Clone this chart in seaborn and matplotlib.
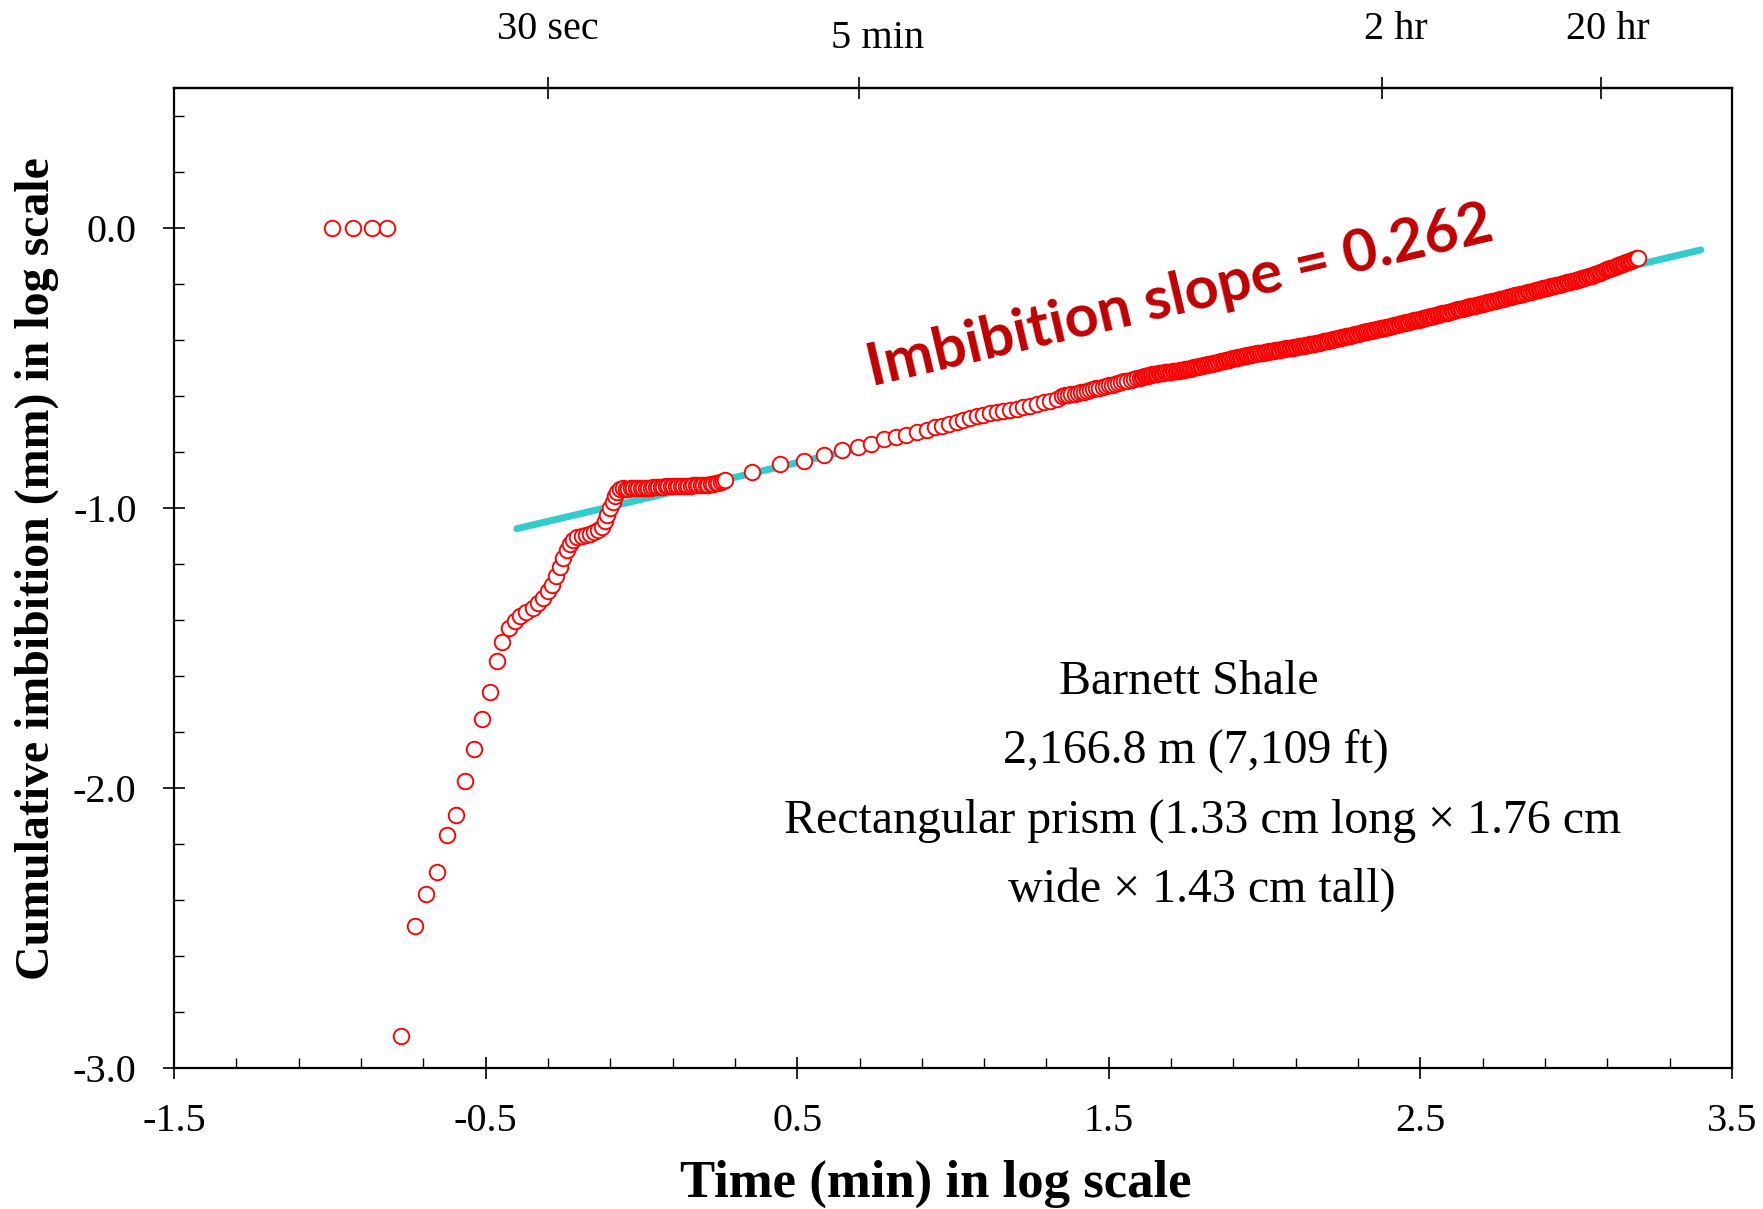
import matplotlib
matplotlib.use("Agg")
import matplotlib.pyplot as plt
from matplotlib.ticker import FixedLocator, AutoMinorLocator, MultipleLocator, FormatStrFormatter, NullLocator
import numpy as np
import pandas as pd
import seaborn as sns

# ---------------- data (log10 values) ----------------
# early readings (flat at 0.0)
t_early = [-0.992, -0.925, -0.866, -0.815]
i_early = [0.0, 0.0, 0.0, 0.0]

# steep rise and knee
t_rise = [-0.771, -0.727, -0.691, -0.655, -0.623, -0.594, -0.565, -0.536, -0.511, -0.486,
          -0.465, -0.446, -0.424, -0.406, -0.388, -0.369, -0.349, -0.331, -0.315, -0.299,
          -0.288, -0.274, -0.262, -0.251, -0.240, -0.229, -0.219, -0.206, -0.192, -0.178,
          -0.165, -0.151, -0.139, -0.128, -0.117, -0.110, -0.101, -0.092, -0.085, -0.078,
          -0.069, -0.058]
i_rise = [-2.884, -2.494, -2.378, -2.301, -2.169, -2.096, -1.976, -1.859, -1.755, -1.657,
          -1.548, -1.480, -1.429, -1.405, -1.387, -1.373, -1.357, -1.340, -1.322, -1.298,
          -1.274, -1.244, -1.209, -1.179, -1.149, -1.128, -1.114, -1.104, -1.099, -1.096,
          -1.092, -1.087, -1.078, -1.066, -1.048, -1.024, -1.000, -0.977, -0.956, -0.941,
          -0.933, -0.929]

# plateau
t_plateau = [-0.050, -0.042, -0.034, -0.026, -0.018, -0.010, -0.002, 0.006, 0.014, 0.022,
             0.030, 0.038, 0.046, 0.054, 0.062, 0.070, 0.078, 0.086, 0.094, 0.102,
             0.110, 0.118, 0.126, 0.134, 0.142, 0.150, 0.158, 0.166, 0.174, 0.182,
             0.190, 0.198, 0.206, 0.214, 0.222, 0.230, 0.238, 0.246, 0.254, 0.262, 0.269]
i_plateau = [-0.931, -0.931, -0.930, -0.930, -0.929, -0.929, -0.929, -0.928, -0.928, -0.927,
             -0.927, -0.926, -0.926, -0.925, -0.924, -0.924, -0.923, -0.923, -0.922, -0.922,
             -0.922, -0.921, -0.921, -0.921, -0.920, -0.920, -0.920, -0.919, -0.919, -0.918,
             -0.918, -0.917, -0.917, -0.916, -0.915, -0.914, -0.912, -0.910, -0.907, -0.904, -0.901]

# sparse middle section
t_mid = [0.354, 0.445, 0.523, 0.587, 0.644, 0.694, 0.738, 0.778, 0.818, 0.850,
         0.883, 0.915, 0.943, 0.964, 0.988, 1.012, 1.033, 1.054, 1.076, 1.097,
         1.119, 1.140, 1.162, 1.182, 1.205, 1.226, 1.247, 1.269, 1.291, 1.312,
         1.333, 1.350]
i_mid = [-0.873, -0.844, -0.831, -0.812, -0.792, -0.783, -0.771, -0.755, -0.745, -0.739,
         -0.727, -0.720, -0.711, -0.706, -0.699, -0.691, -0.685, -0.679, -0.671, -0.667,
         -0.661, -0.657, -0.654, -0.649, -0.645, -0.639, -0.635, -0.628, -0.622, -0.617,
         -0.609, -0.601]

# dense late section (readings A)
t_late = [1.36, 1.37, 1.38, 1.39, 1.40, 1.41, 1.42, 1.43, 1.44, 1.45,
          1.46, 1.47, 1.48, 1.49, 1.50, 1.51, 1.52, 1.53, 1.54, 1.55,
          1.56, 1.57, 1.58, 1.59, 1.60, 1.61, 1.62, 1.63, 1.64, 1.65,
          1.66, 1.67, 1.68, 1.69, 1.70, 1.71, 1.72, 1.73, 1.74, 1.75,
          1.76, 1.77, 1.78, 1.79, 1.80, 1.81, 1.82, 1.83, 1.84, 1.85,
          1.86, 1.87, 1.88, 1.89, 1.90, 1.91, 1.92, 1.93, 1.94, 1.95,
          1.96, 1.97, 1.98, 1.99, 2.00, 2.01, 2.02, 2.03, 2.04, 2.05,
          2.06, 2.07, 2.08, 2.09, 2.10, 2.11, 2.12, 2.13, 2.14, 2.15,
          2.16, 2.17, 2.18, 2.19, 2.20, 2.21, 2.22, 2.23, 2.24, 2.25,
          2.26, 2.27, 2.28, 2.29, 2.30, 2.31, 2.32, 2.33, 2.34, 2.35,
          2.36, 2.37, 2.38, 2.39, 2.40, 2.41, 2.42, 2.43, 2.44, 2.45,
          2.46, 2.47, 2.48, 2.49, 2.50, 2.51, 2.52, 2.53, 2.54, 2.55,
          2.56, 2.57, 2.58, 2.59, 2.60, 2.61, 2.62, 2.63, 2.64, 2.65,
          2.66, 2.67, 2.68, 2.69, 2.70, 2.71, 2.72, 2.73, 2.74, 2.75,
          2.76, 2.77, 2.78, 2.79, 2.80, 2.81, 2.82, 2.83, 2.84, 2.85,
          2.86, 2.87, 2.88, 2.89, 2.90, 2.91, 2.92, 2.93, 2.94, 2.95,
          2.96, 2.97, 2.98, 2.99, 3.00, 3.01, 3.02, 3.03, 3.04, 3.05,
          3.06, 3.07, 3.08, 3.09, 3.10, 3.11, 3.12, 3.13, 3.14, 3.15,
          3.16, 3.17, 3.18, 3.19, 3.20]
i_late = [-0.598, -0.596, -0.594, -0.591, -0.589, -0.586, -0.584, -0.581, -0.579, -0.576,
          -0.573, -0.570, -0.568, -0.565, -0.562, -0.559, -0.556, -0.554, -0.551, -0.548,
          -0.545, -0.542, -0.540, -0.537, -0.534, -0.531, -0.529, -0.526, -0.523, -0.521,
          -0.519, -0.518, -0.516, -0.515, -0.513, -0.511, -0.509, -0.508, -0.506, -0.504,
          -0.502, -0.499, -0.497, -0.494, -0.492, -0.489, -0.487, -0.484, -0.482, -0.479,
          -0.476, -0.474, -0.471, -0.469, -0.466, -0.463, -0.461, -0.458, -0.456, -0.453,
          -0.451, -0.449, -0.447, -0.446, -0.444, -0.442, -0.440, -0.438, -0.436, -0.434,
          -0.432, -0.430, -0.429, -0.427, -0.425, -0.423, -0.421, -0.419, -0.417, -0.415,
          -0.413, -0.410, -0.408, -0.405, -0.403, -0.400, -0.398, -0.395, -0.393, -0.390,
          -0.387, -0.385, -0.382, -0.380, -0.377, -0.374, -0.372, -0.369, -0.367, -0.364,
          -0.362, -0.359, -0.357, -0.354, -0.352, -0.349, -0.346, -0.343, -0.341, -0.338,
          -0.335, -0.333, -0.330, -0.328, -0.325, -0.322, -0.319, -0.317, -0.314, -0.311,
          -0.308, -0.305, -0.303, -0.300, -0.297, -0.294, -0.291, -0.289, -0.286, -0.283,
          -0.280, -0.278, -0.275, -0.273, -0.270, -0.267, -0.264, -0.262, -0.259, -0.256,
          -0.253, -0.250, -0.248, -0.245, -0.242, -0.239, -0.236, -0.234, -0.231, -0.228,
          -0.225, -0.222, -0.220, -0.217, -0.214, -0.211, -0.208, -0.206, -0.203, -0.200,
          -0.197, -0.194, -0.192, -0.189, -0.186, -0.183, -0.180, -0.176, -0.173, -0.170,
          -0.166, -0.161, -0.157, -0.152, -0.148, -0.144, -0.140, -0.135, -0.131, -0.127,
          -0.123, -0.119, -0.114, -0.110, -0.106]

# dense late section (readings B, between readings A)
t_late_b = [1.605, 1.615, 1.625, 1.635, 1.645, 1.655, 1.665, 1.675, 1.685, 1.695,
            1.705, 1.715, 1.725, 1.735, 1.745, 1.755, 1.765, 1.775, 1.785, 1.795,
            1.805, 1.815, 1.825, 1.835, 1.845, 1.855, 1.865, 1.875, 1.885, 1.895,
            1.905, 1.915, 1.925, 1.935, 1.945, 1.955, 1.965, 1.975, 1.985, 1.995,
            2.005, 2.015, 2.025, 2.035, 2.045, 2.055, 2.065, 2.075, 2.085, 2.095,
            2.105, 2.115, 2.125, 2.135, 2.145, 2.155, 2.165, 2.175, 2.185, 2.195,
            2.205, 2.215, 2.225, 2.235, 2.245, 2.255, 2.265, 2.275, 2.285, 2.295,
            2.305, 2.315, 2.325, 2.335, 2.345, 2.355, 2.365, 2.375, 2.385, 2.395,
            2.405, 2.415, 2.425, 2.435, 2.445, 2.455, 2.465, 2.475, 2.485, 2.495,
            2.505, 2.515, 2.525, 2.535, 2.545, 2.555, 2.565, 2.575, 2.585, 2.595,
            2.605, 2.615, 2.625, 2.635, 2.645, 2.655, 2.665, 2.675, 2.685, 2.695,
            2.705, 2.715, 2.725, 2.735, 2.745, 2.755, 2.765, 2.775, 2.785, 2.795,
            2.805, 2.815, 2.825, 2.835, 2.845, 2.855, 2.865, 2.875, 2.885, 2.895,
            2.905, 2.915, 2.925, 2.935, 2.945, 2.955, 2.965, 2.975, 2.985, 2.995,
            3.005, 3.015, 3.025, 3.035, 3.045, 3.055, 3.065, 3.075, 3.085, 3.095,
            3.105, 3.115, 3.125, 3.135, 3.145, 3.155, 3.165, 3.175, 3.185, 3.195]
i_late_b = [-0.533, -0.530, -0.528, -0.525, -0.522, -0.520, -0.519, -0.517, -0.516, -0.514,
            -0.512, -0.510, -0.509, -0.507, -0.505, -0.503, -0.501, -0.498, -0.496, -0.493,
            -0.491, -0.488, -0.486, -0.483, -0.481, -0.478, -0.475, -0.473, -0.470, -0.468,
            -0.465, -0.462, -0.460, -0.457, -0.455, -0.452, -0.450, -0.448, -0.447, -0.445,
            -0.443, -0.441, -0.439, -0.437, -0.435, -0.433, -0.431, -0.430, -0.428, -0.426,
            -0.424, -0.422, -0.420, -0.418, -0.416, -0.414, -0.412, -0.409, -0.407, -0.404,
            -0.402, -0.399, -0.397, -0.394, -0.392, -0.389, -0.386, -0.384, -0.381, -0.379,
            -0.376, -0.373, -0.371, -0.368, -0.366, -0.363, -0.361, -0.358, -0.356, -0.353,
            -0.351, -0.348, -0.345, -0.342, -0.340, -0.337, -0.334, -0.332, -0.329, -0.327,
            -0.324, -0.321, -0.318, -0.316, -0.313, -0.310, -0.307, -0.304, -0.302, -0.299,
            -0.296, -0.293, -0.290, -0.288, -0.285, -0.282, -0.279, -0.277, -0.274, -0.272,
            -0.269, -0.266, -0.263, -0.261, -0.258, -0.255, -0.252, -0.249, -0.247, -0.244,
            -0.241, -0.238, -0.235, -0.233, -0.230, -0.227, -0.224, -0.221, -0.219, -0.216,
            -0.213, -0.210, -0.207, -0.205, -0.202, -0.199, -0.196, -0.193, -0.191, -0.188,
            -0.185, -0.182, -0.178, -0.175, -0.172, -0.168, -0.164, -0.159, -0.155, -0.150,
            -0.146, -0.142, -0.138, -0.133, -0.129, -0.125, -0.121, -0.117, -0.112, -0.108]

# fitted line
fit_x = [-0.40, 3.40]
fit_slope = 0.262
fit_intercept = -0.969

# axis ticks / labels
x_major_ticks = [-1.5, -0.5, 0.5, 1.5, 2.5, 3.5]
top_tick_pos = [-0.301, 0.699, 2.377, 3.079]
top_tick_labels = ["30 sec", "5 min", "2 hr", "20 hr"]
annotation_lines = ["Barnett Shale", "2,166.8 m (7,109 ft)",
                    "Rectangular prism (1.33 cm long \u00d7 1.76 cm",
                    "wide \u00d7 1.43 cm tall)"]
slope_label = "Imbibition slope = 0.262"

# ---------------- plotting ----------------
sns.set_style("ticks")
plt.rcParams["font.family"] = ["Liberation Serif", "DejaVu Serif"]
plt.rcParams["axes.unicode_minus"] = False
plt.rcParams["text.color"] = "black"
plt.rcParams["axes.labelcolor"] = "black"
plt.rcParams["xtick.color"] = "black"
plt.rcParams["ytick.color"] = "black"
plt.rcParams["axes.edgecolor"] = "black"

fig = plt.figure(figsize=(17.63, 12.09), dpi=100)
ax = fig.add_axes([0.0987, 0.1166, 0.8837, 0.8106])

df = pd.DataFrame({
    "log_t": t_early + t_rise + t_plateau + t_mid + t_late + t_late_b,
    "log_i": i_early + i_rise + i_plateau + i_mid + i_late + i_late_b,
}).sort_values("log_t", kind="stable").reset_index(drop=True)
fit_df = pd.DataFrame({"x": fit_x, "y": [fit_slope * v + fit_intercept for v in fit_x]})

sns.lineplot(data=fit_df, x="x", y="y", ax=ax, color="#33CCCC", linewidth=5,
             solid_capstyle="round", zorder=2)
sns.scatterplot(data=df, x="log_t", y="log_i", ax=ax, marker="o", s=125,
                color="white", edgecolor="#FF0000", linewidth=1.35, zorder=3)

ax.set_xlim(-1.5, 3.5)
ax.set_ylim(-3.0, 0.5)

ax.xaxis.set_major_locator(FixedLocator(x_major_ticks))
ax.xaxis.set_minor_locator(AutoMinorLocator(5))
ax.yaxis.set_major_locator(MultipleLocator(1.0))
ax.yaxis.set_minor_locator(AutoMinorLocator(5))
ax.xaxis.set_major_formatter(FormatStrFormatter("%.1f"))
ax.yaxis.set_major_formatter(FormatStrFormatter("%.1f"))

ax.tick_params(which="major", direction="inout", length=16, width=1.2,
               labelsize=29, colors="black")
ax.tick_params(axis="x", which="major", pad=17)
ax.tick_params(axis="y", which="major", pad=19)
ax.tick_params(which="minor", direction="in", length=7, width=1.0, colors="black")
ax.tick_params(which="both", top=False, right=False)

for sp in ax.spines.values():
    sp.set_visible(True)
    sp.set_linewidth(1.6)
    sp.set_color("black")

secax = ax.secondary_xaxis("top")
secax.set_xticks(top_tick_pos)
secax.set_xticklabels([])
secax.xaxis.set_minor_locator(NullLocator())
secax.tick_params(direction="inout", length=16, width=1.2, colors="black")
secax.spines["top"].set_linewidth(1.6)

top_offsets = [(0, 42.0), (13, 35.5), (9.7, 42.0), (5.3, 42.0)]
for pos, lab, off in zip(top_tick_pos, top_tick_labels, top_offsets):
    ax.annotate(lab, xy=(pos, 1.0), xycoords=("data", "axes fraction"),
                xytext=off, textcoords="offset points",
                ha="center", va="center", fontsize=29, color="black")

ax.set_xlabel("Time (min) in log scale", fontsize=38, fontweight="bold")
ax.xaxis.set_label_coords(0.489, -0.094)
ax.set_ylabel("Cumulative imbibition (mm) in log scale", fontsize=34.5,
              fontweight="bold")
ax.yaxis.set_label_coords(-0.0735, 0.510)

ann_pos = [(1.756, -1.622), (1.778, -1.867), (1.800, -2.116), (1.800, -2.361)]
for (tx, ty), line in zip(ann_pos, annotation_lines):
    ax.text(tx, ty, line, ha="center", va="center", fontsize=34.5, color="black")

ax.text(1.727, -0.245, slope_label, color="#C00000", fontsize=42.8,
        fontweight="bold", family=["Lato", "DejaVu Sans"],
        rotation=13.2, rotation_mode="anchor", ha="center", va="center")

fig.savefig("out.png", dpi=100)
